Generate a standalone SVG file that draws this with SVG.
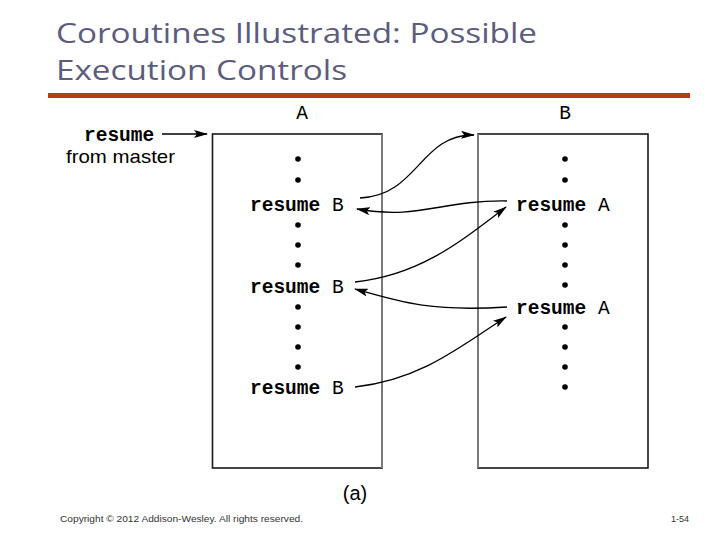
<svg xmlns="http://www.w3.org/2000/svg" width="720" height="540" viewBox="0 0 720 540">
<style>
.title{font-family:"Open Sans","Liberation Sans",sans-serif;font-size:28px;fill:#5c5c7e}
.mono{font-family:"Liberation Mono","Courier New",monospace;font-size:19.5px;fill:#000}
.b{font-weight:bold}
.sans{font-family:"Liberation Sans",Arial,sans-serif;fill:#000}
.box{fill:#fff;stroke:#1a1a1a;stroke-width:1.6}
.conn{fill:none;stroke:#000;stroke-width:1.3}
.small{font-family:"Liberation Sans",Arial,sans-serif;font-size:9px;fill:#333}
</style>
<defs>
<marker id="ah" viewBox="0 0 14 8" refX="13" refY="4" markerWidth="14" markerHeight="8" markerUnits="userSpaceOnUse" orient="auto">
<path d="M0,0 L14,4 L0,8 L3,4 Z" fill="#000"/>
</marker>
</defs>
<rect width="720" height="540" fill="#fff"/>
<text class="title" x="56" y="43" textLength="481" lengthAdjust="spacingAndGlyphs">Coroutines Illustrated: Possible</text>
<text class="title" x="56" y="80" textLength="291" lengthAdjust="spacingAndGlyphs">Execution Controls</text>
<rect x="48" y="93" width="642" height="5" fill="#bb3a12"/>

<g id="A">
<rect class="box" x="212.5" y="134" width="169.5" height="334"/>
<line x1="382" y1="134" x2="382" y2="468" stroke="#808080" stroke-width="1.8"/>
<text class="mono" x="302" y="119" text-anchor="middle">A</text>
<g fill="#000">
<circle cx="298" cy="159" r="2.8"/><circle cx="298" cy="180" r="2.8"/>
<circle cx="298" cy="225" r="2.8"/><circle cx="298" cy="245" r="2.8"/><circle cx="298" cy="265" r="2.8"/>
<circle cx="298" cy="307" r="2.8"/><circle cx="298" cy="327" r="2.8"/><circle cx="298" cy="347" r="2.8"/><circle cx="298" cy="367" r="2.8"/>
</g>
<text class="mono" x="250" y="211"><tspan class="b">resume</tspan> B</text>
<text class="mono" x="250" y="293"><tspan class="b">resume</tspan> B</text>
<text class="mono" x="250" y="394"><tspan class="b">resume</tspan> B</text>
</g>

<g id="B">
<rect class="box" x="478" y="134" width="170" height="334"/>
<line x1="478" y1="134" x2="478" y2="468" stroke="#808080" stroke-width="1.8"/>
<text class="mono" x="565" y="119" text-anchor="middle">B</text>
<g fill="#000">
<circle cx="565" cy="159" r="2.8"/><circle cx="565" cy="180" r="2.8"/>
<circle cx="565" cy="225" r="2.8"/><circle cx="565" cy="245" r="2.8"/><circle cx="565" cy="265" r="2.8"/><circle cx="565" cy="285" r="2.8"/>
<circle cx="565" cy="327" r="2.8"/><circle cx="565" cy="347" r="2.8"/><circle cx="565" cy="367" r="2.8"/><circle cx="565" cy="387" r="2.8"/>
</g>
<text class="mono" x="516" y="211"><tspan class="b">resume</tspan> A</text>
<text class="mono" x="516" y="314"><tspan class="b">resume</tspan> A</text>
</g>

<g id="master">
<text class="mono b" x="84" y="141">resume</text>
<text class="sans" x="66" y="163" font-size="18.5" textLength="109" lengthAdjust="spacingAndGlyphs">from master</text>
</g>

<g id="connectors">
<path class="conn" d="M162,134 L207,134" marker-end="url(#ah)"/>
<path class="conn" d="M360,198 C418,196 420,134 474,135" marker-end="url(#ah)"/>
<path class="conn" d="M507,201 C440,200 420,220 357,209" marker-end="url(#ah)"/>
<path class="conn" d="M355,282 C420,275 460,242 506,207" marker-end="url(#ah)"/>
<path class="conn" d="M507,307 C430,312 400,302 355,289" marker-end="url(#ah)"/>
<path class="conn" d="M355,387 C420,380 460,347 506,317" marker-end="url(#ah)"/>
</g>

<text class="sans" x="355" y="500" font-size="20" text-anchor="middle">(a)</text>
<text class="small" x="60" y="522" textLength="243" lengthAdjust="spacingAndGlyphs">Copyright © 2012 Addison-Wesley. All rights reserved.</text>
<text class="small" x="689" y="522" text-anchor="end">1-54</text>
</svg>
